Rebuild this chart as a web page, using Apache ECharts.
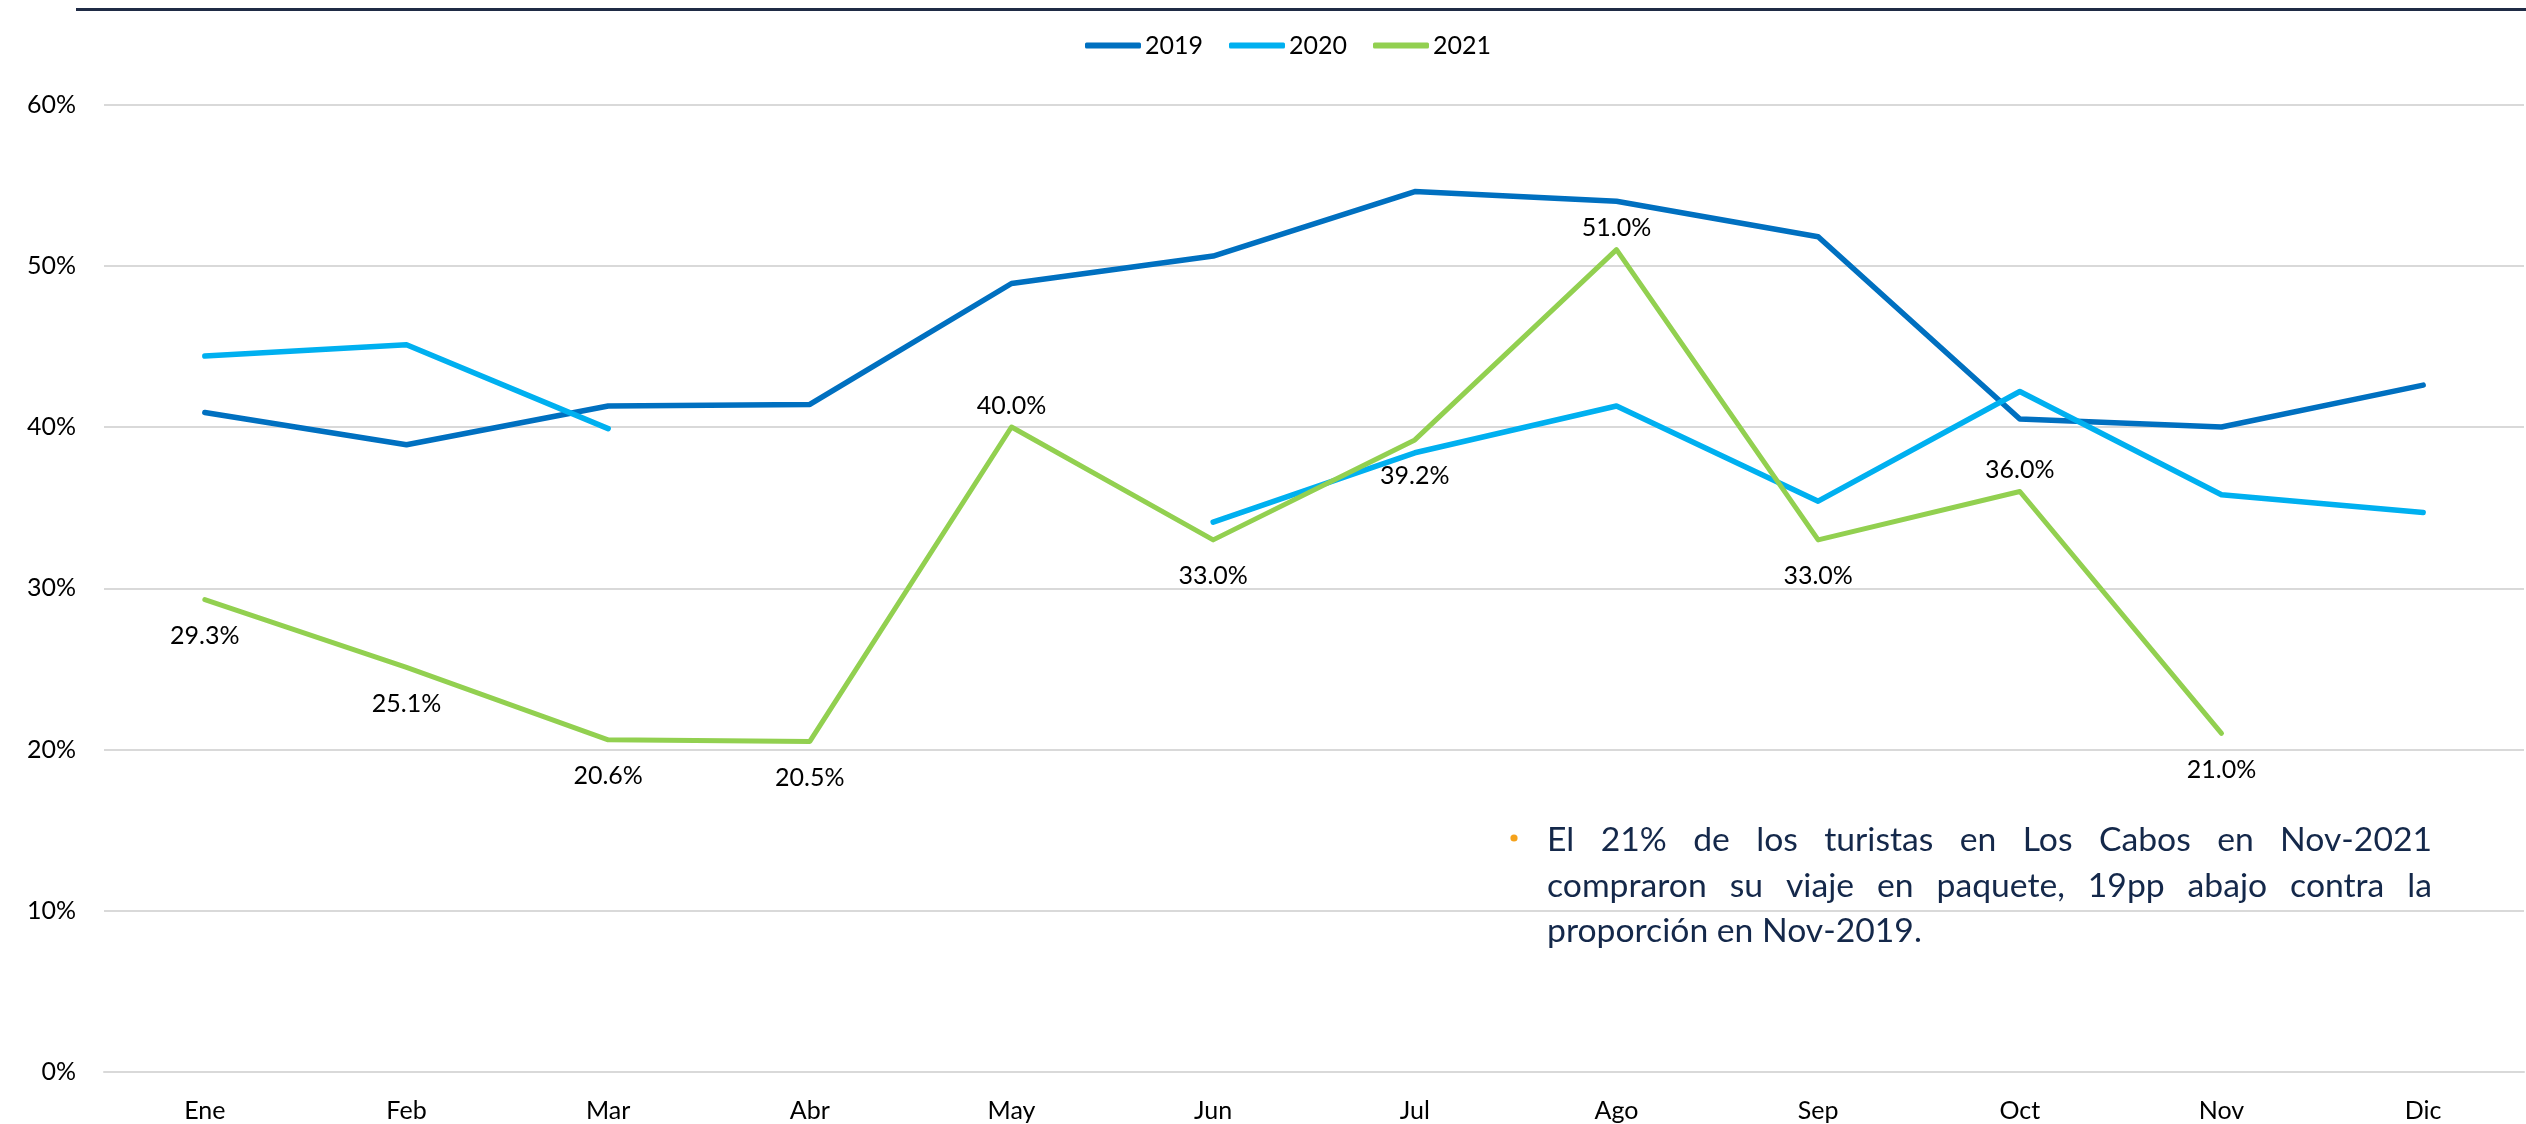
<!DOCTYPE html>
<html>
<head>
<meta charset="utf-8">
<script src="https://cdn.jsdelivr.net/npm/echarts@6/dist/echarts.min.js"></script>
<style>
html,body{margin:0;padding:0;background:#fff;}
#chart{width:2526px;height:1124px;}
</style>
</head>
<body>
<div id="chart"></div>
<script>
const categories = ['Ene','Feb','Mar','Abr','May','Jun','Jul','Ago','Sep','Oct','Nov','Dic'];
const seriesNames = ['2019','2020','2021'];
const y2019 = [40.9, 38.9, 41.3, 41.4, 48.9, 50.6, 54.6, 54.0, 51.8, 40.5, 40.0, 42.6];
const y2020 = [44.4, 45.1, 39.9, null, null, 34.1, 38.4, 41.3, 35.4, 42.2, 35.8, 34.7];
const y2021 = [29.3, 25.1, 20.6, 20.5, 40.0, 33.0, 39.2, 51.0, 33.0, 36.0, 21.0, null];
const labelAboveMonths = ['May','Ago','Oct'];
const yTicks = {min: 0, max: 60, interval: 10};
const noteLines = [
  'El 21% de los turistas en Los Cabos en Nov-2021',
  'compraron su viaje en paquete, 19pp abajo contra la',
  'proporción en Nov-2019.'
];

const FONT = 'Lato, "Open Sans", sans-serif';
const colors = ['#0070C0', '#00B0F0', '#92D050'];

const chart = echarts.init(document.getElementById('chart'), null, {renderer: 'canvas'});

// Justified note text built from word measurements
const measureCtx = document.createElement('canvas').getContext('2d');
measureCtx.font = '30px Lato';
const lastLineTarget = 375;
let noteFontSize = 30 * lastLineTarget / measureCtx.measureText(noteLines[noteLines.length - 1]).width;
noteFontSize = Math.round(noteFontSize * 10) / 10;
measureCtx.font = noteFontSize + 'px Lato';
const noteLeft = 1547, noteRight = 2432;
const noteLineCenters = [840, 886, 931];
const noteColor = '#14284A';
const graphics = [];
noteLines.forEach((line, li) => {
  const words = line.split(' ');
  const justify = li < noteLines.length - 1;
  if (!justify) {
    graphics.push({type: 'text', x: noteLeft, y: noteLineCenters[li], silent: true,
      style: {text: line, font: noteFontSize + 'px Lato', fill: noteColor, align: 'left', verticalAlign: 'middle'}});
    return;
  }
  const widths = words.map(w => measureCtx.measureText(w).width);
  const total = widths.reduce((a, b) => a + b, 0);
  const gap = (noteRight - noteLeft - total) / (words.length - 1);
  let x = noteLeft;
  words.forEach((w, wi) => {
    graphics.push({type: 'text', x: x, y: noteLineCenters[li], silent: true,
      style: {text: w, font: noteFontSize + 'px Lato', fill: noteColor, align: 'left', verticalAlign: 'middle'}});
    x += widths[wi] + gap;
  });
});
// bullet
graphics.push({type: 'circle', shape: {cx: 1514, cy: 838, r: 3.6}, style: {fill: '#F5A21B'}, silent: true});
// top rule
graphics.push({type: 'line', shape: {x1: 76, y1: 9.5, x2: 2526, y2: 9.5}, style: {stroke: '#1F2B45', lineWidth: 3}, silent: true});

const option = {
  backgroundColor: '#ffffff',
  animation: false,
  color: colors,
  textStyle: {fontFamily: FONT},
  legend: {
    data: seriesNames,
    left: 1080,
    top: 28,
    icon: 'roundRect',
    itemWidth: 56,
    itemHeight: 6,
    itemGap: 26,
    textStyle: {fontSize: 25, color: '#000', fontFamily: FONT, padding: [0, 0, 0, -1]}
  },
  grid: {left: 104, right: 2, top: 104.5, bottom: 52, containLabel: false},
  xAxis: {
    type: 'category',
    data: categories,
    boundaryGap: true,
    axisLine: {show: true, lineStyle: {color: '#D9D9D9', width: 2}},
    axisTick: {show: false},
    axisLabel: {fontSize: 25, color: '#000', fontFamily: FONT, margin: 26}
  },
  yAxis: {
    type: 'value',
    min: yTicks.min,
    max: yTicks.max,
    interval: yTicks.interval,
    axisLine: {show: false},
    axisTick: {show: false},
    splitLine: {lineStyle: {color: '#D9D9D9', width: 2}},
    axisLabel: {fontSize: 25, color: '#000', fontFamily: FONT, margin: 28, formatter: '{value}%'}
  },
  series: [
    {
      name: seriesNames[0], type: 'line', data: y2019,
      symbol: 'none', connectNulls: false,
      lineStyle: {width: 5.5, color: colors[0], cap: 'round', join: 'round'}
    },
    {
      name: seriesNames[1], type: 'line', data: y2020,
      symbol: 'none', connectNulls: false,
      lineStyle: {width: 5.5, color: colors[1], cap: 'round', join: 'round'}
    },
    {
      name: seriesNames[2], type: 'line',
      data: y2021.map((v, i) => {
        const above = labelAboveMonths.includes(categories[i]);
        return {value: v, label: {position: above ? 'top' : 'bottom', distance: above ? 8 : 23}};
      }),
      symbol: 'circle', symbolSize: 2, showSymbol: true, connectNulls: false,
      itemStyle: {color: colors[2]},
      lineStyle: {width: 5, color: colors[2], cap: 'round', join: 'round'},
      label: {
        show: true, fontSize: 25, color: '#000', fontFamily: FONT,
        formatter: p => (p.value == null ? '' : Number(p.value).toFixed(1) + '%')
      },
      z: 3
    }
  ],
  graphic: graphics
};
chart.setOption(option);
</script>
</body>
</html>
